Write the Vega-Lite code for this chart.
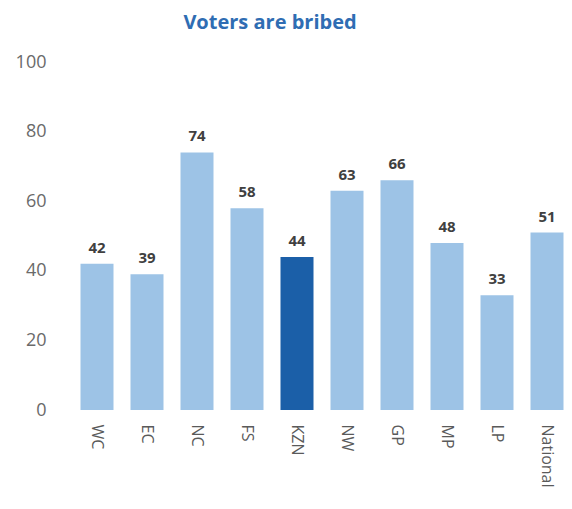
{
  "$schema": "https://vega.github.io/schema/vega-lite/v6.json",
  "autosize": {"type": "none"},
  "padding": {"left": 72, "top": 62, "right": 0, "bottom": 99},
  "width": 500,
  "height": 348,
  "background": "white",
  "title": {
    "text": "Voters are bribed",
    "font": "Open Sans",
    "fontSize": 20,
    "fontWeight": "bold",
    "color": "#2f6db3",
    "anchor": "middle",
    "frame": "group",
    "dx": -52,
    "offset": 20
  },
  "data": {
    "values": [
      {"region": "WC", "value": 42, "highlight": "no"},
      {"region": "EC", "value": 39, "highlight": "no"},
      {"region": "NC", "value": 74, "highlight": "no"},
      {"region": "FS", "value": 58, "highlight": "no"},
      {"region": "KZN", "value": 44, "highlight": "yes"},
      {"region": "NW", "value": 63, "highlight": "no"},
      {"region": "GP", "value": 66, "highlight": "no"},
      {"region": "MP", "value": 48, "highlight": "no"},
      {"region": "LP", "value": 33, "highlight": "no"},
      {"region": "National", "value": 51, "highlight": "no"}
    ]
  },
  "config": {"view": {"stroke": null}},
  "encoding": {
    "x": {
      "field": "region",
      "type": "nominal",
      "sort": null,
      "scale": {"paddingInner": 0.34, "paddingOuter": 0.17},
      "axis": {
        "title": null,
        "labelAngle": 90,
        "labelAlign": "left",
        "labelBaseline": "middle",
        "labelFont": "Open Sans",
        "labelFontSize": 16,
        "labelColor": "#5a5a5a",
        "labelPadding": 14,
        "ticks": false,
        "domain": false
      }
    },
    "y": {
      "field": "value",
      "type": "quantitative",
      "scale": {"domain": [0, 100]},
      "axis": {
        "title": null,
        "values": [0, 20, 40, 60, 80, 100],
        "grid": false,
        "ticks": false,
        "domain": false,
        "labelFont": "Open Sans",
        "labelFontSize": 18,
        "labelColor": "#6a6a6a",
        "labelPadding": 26
      }
    }
  },
  "layer": [
    {
      "mark": {"type": "bar"},
      "encoding": {
        "color": {
          "field": "highlight",
          "type": "nominal",
          "scale": {"domain": ["no", "yes"], "range": ["#9dc3e6", "#1b5fa8"]},
          "legend": null
        }
      }
    },
    {
      "mark": {"type": "text", "dy": -16, "font": "Open Sans", "fontSize": 15, "fontWeight": "bold", "color": "#404040"},
      "encoding": {"text": {"field": "value", "type": "quantitative"}}
    }
  ]
}
